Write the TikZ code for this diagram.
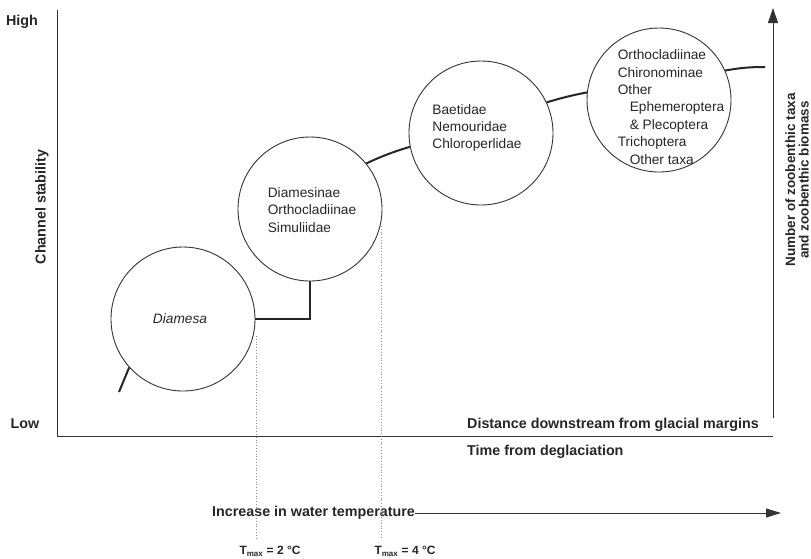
\documentclass[tikz,border=0pt]{standalone}
\usepackage{fontspec}
\setmainfont{Liberation Sans}
\usetikzlibrary{arrows.meta}
\tikzset{
  lab/.style={font=\fontsize{14.3}{16}\selectfont\bfseries, text=black!85, inner sep=0pt},
  taxa/.style={circle, draw=black!80, line width=0.9pt, minimum size=144pt, inner sep=0pt},
  inner/.style={font=\fontsize{13.7}{17.3}\selectfont, text=black!85, align=left, inner sep=0pt},
  axis/.style={draw=black!80, line width=1pt},
  trend/.style={draw=black!85, line width=2pt},
  guide/.style={draw=black!45, line width=0.8pt, dotted},
  tlab/.style={font=\fontsize{12}{14}\selectfont\bfseries, text=black!85, inner sep=0pt},
}
\begin{document}
\begin{tikzpicture}[x=1pt,y=-1pt]
\useasboundingbox (0,0) rectangle (811,558);
% axes
\coordinate (ytop) at (57,10);
\coordinate (orig) at (57,436);
\coordinate (xend) at (773,436);
\draw[axis] (ytop) -- (orig) -- (xend);
\coordinate (rbot) at (773,418);
\coordinate (rtop) at (773,8);
\draw[axis, -{Triangle[length=15pt,width=10pt]}] (rbot) -- (rtop);
% axis labels
\node[lab] (high) at (22,22) {High};
\node[lab] (low) at (25,424) {Low};
\node[lab, rotate=90] (chs) at (42,207) {Channel stability};
\node[lab, rotate=90, align=center, font=\fontsize{13.5}{13.5}\selectfont\bfseries] (num) at (797,180) {Number of zoobenthic taxa\\and zoobenthic biomass};
\node[lab, anchor=west] (dist) at (467,425) {Distance downstream from glacial margins};
\node[lab, anchor=west] (time) at (467,452) {Time from deglaciation};
% circles
\node[taxa] (c1) at (183,319) {};
\node[inner, font=\fontsize{13.7}{16}\selectfont\itshape] (c1t) at (180,319) {Diamesa};
\node[taxa] (c2) at (310,209) {};
\node[inner] (c2t) at (312,210) {Diamesinae\\Orthocladiinae\\Simuliidae};
\node[taxa] (c3) at (481,133) {};
\node[inner] (c3t) at (477,128) {Baetidae\\Nemouridae\\Chloroperlidae};
\node[taxa] (c4) at (659,100) {};
\node[inner, font=\fontsize{13.7}{17.4}\selectfont] (c4t) at (671,107) {Orthocladiinae\\Chironominae\\Other\\\hspace*{12pt}Ephemeroptera\\\hspace*{12pt}\& Plecoptera\\Trichoptera\\\hspace*{12pt}Other taxa};
% trend line
\coordinate (s0) at (119,392);
\coordinate (s9) at (765,67);
\draw[trend] (s0) -- (c1.222);
\draw[trend] (c1.east) -| (c2.south);
\draw[trend] (c2.39) to[bend left=4] (c3.191);
\draw[trend] (c3.25) to[bend left=3] (c4.174);
\draw[trend] (c4.24) to[bend left=5] (s9);
% temperature
\node[lab, anchor=west] (temp) at (212,513) {Increase in water temperature};
\coordinate (tend) at (781,513);
\draw[axis, -{Triangle[length=15pt,width=9pt]}] (temp.east) -- (tend);
% guides
\coordinate (g1a) at (256,336);
\coordinate (g1b) at (256,538);
\coordinate (g2a) at (381,226);
\coordinate (g2b) at (381,538);
\draw[guide] (g1a) -- (g1b);
\draw[guide] (g2a) -- (g2b);
\node[tlab] (t2) at (270,551) {T\textsubscript{max} = 2 °C};
\node[tlab] (t4) at (405,551) {T\textsubscript{max} = 4 °C};
\end{tikzpicture}
\end{document}
